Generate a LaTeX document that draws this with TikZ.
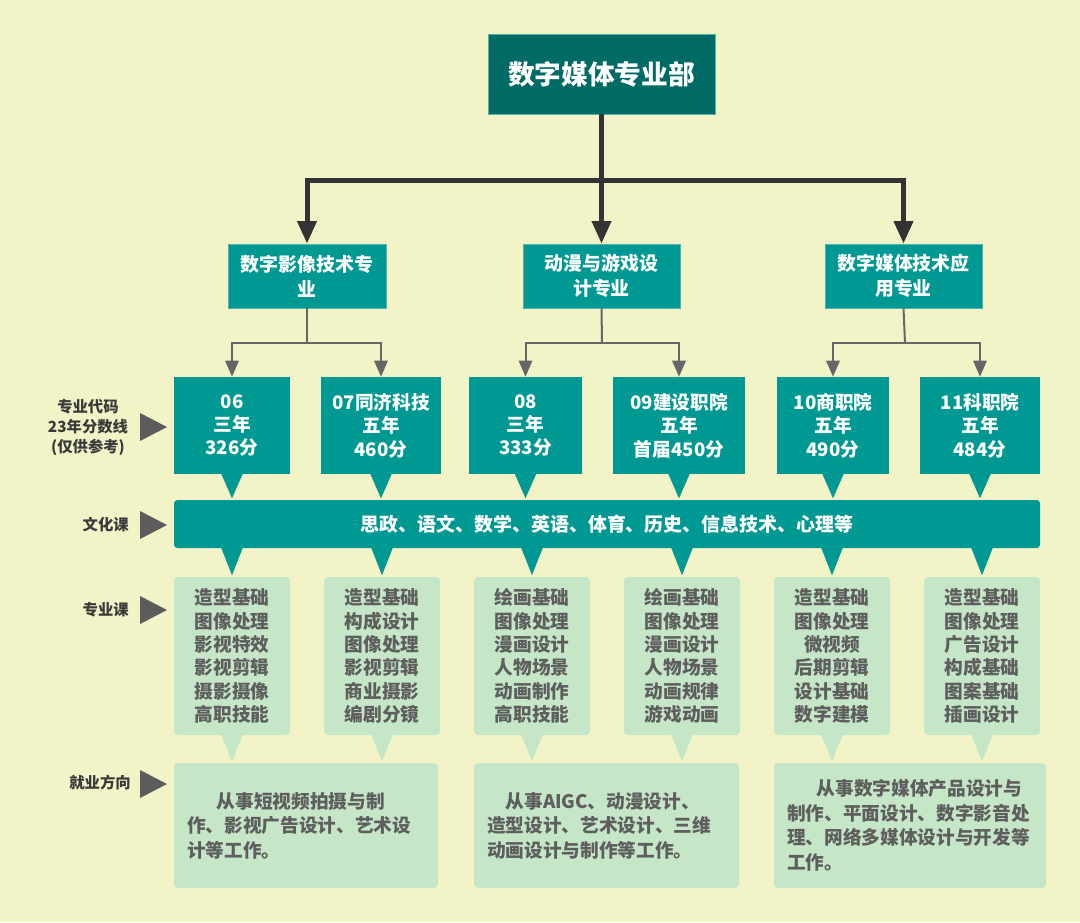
\documentclass[tikz,border=0pt]{standalone}
\usepackage{fontspec}
\setmainfont{Noto Sans CJK SC}
\usetikzlibrary{arrows.meta}
\definecolor{bgc}{HTML}{F2F4C8}
\definecolor{topc}{HTML}{006A65}
\definecolor{tealc}{HTML}{009893}
\definecolor{tealb}{HTML}{4DB5AE}
\definecolor{lgc}{HTML}{C6E6C8}
\definecolor{grayt}{HTML}{5E5E5E}
\definecolor{labc}{HTML}{3A3A3A}
\definecolor{markc}{HTML}{5C5C5C}
\definecolor{darkc}{HTML}{333333}
\definecolor{graylc}{HTML}{666666}
\begin{document}
\begin{tikzpicture}[x=0.75pt,y=-0.75pt,
  topbox/.style={fill=topc, draw=tealb, line width=0.5pt, text=white, inner sep=0pt,
    font=\fontsize{20}{24}\selectfont\bfseries, minimum width=170.25pt, minimum height=60pt},
  majbox/.style={fill=tealc, draw=tealb, line width=0.5pt, text=white, inner sep=0pt, align=center,
    font=\fontsize{14.2}{18.75}\selectfont\bfseries, minimum height=48pt},
  codebox/.style={fill=tealc, text=white, inner sep=0pt, align=center,
    font=\fontsize{14}{17.6}\selectfont\bfseries, minimum height=72.75pt},
  cultbar/.style={fill=tealc, text=white, inner sep=0pt, rounded corners=2.5pt,
    font=\fontsize{14.2}{17}\selectfont\bfseries, minimum width=649.5pt, minimum height=36pt},
  coursebox/.style={fill=lgc, text=grayt, inner sep=0pt, rounded corners=3pt, align=center,
    font=\fontsize{14}{17.5}\selectfont\bfseries, minimum width=87pt, minimum height=118.5pt},
  jobbox/.style={fill=lgc, text=grayt, inner xsep=9.75pt, inner ysep=0pt, rounded corners=3pt, align=left,
    font=\fontsize{14}{18.4}\selectfont\bfseries, minimum height=93.75pt},
  rowlabel/.style={text=labc, inner sep=0pt, align=center,
    font=\fontsize{11.5}{15}\selectfont\bfseries},
  darkarrow/.style={draw=darkc, line width=3.75pt, -{Triangle[width=14pt,length=17pt]}},
  darkline/.style={draw=darkc, line width=3.75pt},
  grayarrow/.style={draw=graylc, line width=1.5pt, -{Triangle[width=10pt,length=12pt]}},
  grayline/.style={draw=graylc, line width=1.5pt}
]
\useasboundingbox[fill=bgc] (0,0) rectangle (1080,922);

% top
\node[topbox] (top) at (601.5,74) {数字媒体专业部};

% majors
\node[majbox, minimum width=118.5pt] (m1) at (307,276) {数字影像技术专\\业};
\node[majbox, minimum width=117.75pt] (m2) at (601.5,276) {动漫与游戏设\\计专业};
\node[majbox, minimum width=117.75pt] (m3) at (903.5,276) {数字媒体技术应\\用专业};

\coordinate (hub) at (601.5,180);
\draw[darkarrow] (hub) -| (m1.north);
\draw[darkarrow] (hub) -| (m3.north);
\draw[darkarrow] (top.south) -- (m2.north);

% code boxes
\node[codebox, minimum width=87pt] (c1) at (232,425.5) {06\\三年\\326分};
\node[codebox, minimum width=90pt] (c2) at (381,425.5) {07同济科技\\五年\\460分};
\node[codebox, minimum width=84.75pt] (c3) at (525.5,425.5) {08\\三年\\333分};
\node[codebox, minimum width=99pt] (c4) at (679,425.5) {09建设职院\\五年\\首届450分};
\node[codebox, minimum width=84pt] (c5) at (833,425.5) {10商职院\\五年\\490分};
\node[codebox, minimum width=90pt] (c6) at (980,425.5) {11科职院\\五年\\484分};

\coordinate (h1) at (307,343);
\coordinate (h2) at (602,343);
\coordinate (h3) at (905,343);
\draw[grayline] (m1.south) -- (h1);
\draw[grayline] (m2.south) -- (h2);
\draw[grayline] (m3.south) -- (h3);
\draw[grayarrow] (h1) -| (c1.north);
\draw[grayarrow] (h1) -| (c2.north);
\draw[grayarrow] (h2) -| (c3.north);
\draw[grayarrow] (h2) -| (c4.north);
\draw[grayarrow] (h3) -| (c5.north);
\draw[grayarrow] (h3) -| (c6.north);

\foreach \c in {c1,c2,c3,c4,c5,c6}
  \fill[tealc] (\c.south) ++(-11,-1) -- ++(11,25) -- ++(11,-25) -- cycle;

% culture bar
\node[cultbar] (bar) at (607,524) {思政、语文、数学、英语、体育、历史、信息技术、心理等};

% course boxes
\node[coursebox] (k1) at (232,656) {造型基础\\图像处理\\影视特效\\影视剪辑\\摄影摄像\\高职技能};
\node[coursebox] (k2) at (382,656) {造型基础\\构成设计\\图像处理\\影视剪辑\\商业摄影\\编剧分镜};
\node[coursebox] (k3) at (532,656) {绘画基础\\图像处理\\漫画设计\\人物场景\\动画制作\\高职技能};
\node[coursebox] (k4) at (682,656) {绘画基础\\图像处理\\漫画设计\\人物场景\\动画规律\\游戏动画};
\node[coursebox] (k5) at (832,656) {造型基础\\图像处理\\微视频\\后期剪辑\\设计基础\\数字建模};
\node[coursebox] (k6) at (982,656) {造型基础\\图像处理\\广告设计\\构成基础\\图案基础\\插画设计};

\foreach \k in {k1,k2,k3,k4,k5,k6}{
  \fill[tealc] (\k.north |- bar.south) ++(-11,-1) -- ++(11,28) -- ++(11,-28) -- cycle;
  \fill[lgc] (\k.south) ++(-11,-1) -- ++(11,27) -- ++(11,-27) -- cycle;
}

% job boxes
\node[jobbox, text width=178.5pt] (j1) at (306,825.5)
  {\hspace*{1.6em}从事短视频拍摄与制\\作、影视广告设计、艺术设\\计等工作。};
\node[jobbox, text width=179.25pt] (j2) at (606.5,825.5)
  {\hspace*{1em}从事AIGC、动漫设计、\\造型设计、艺术设计、三维\\动画设计与制作等工作。};
\node[jobbox, text width=184.5pt] (j3) at (910,825.5)
  {\hspace*{1.6em}从事数字媒体产品设计与\\制作、平面设计、数字影音处\\理、网络多媒体设计与开发等\\工作。};

% row labels
\node[rowlabel] (lab1) at (88,427) {专业代码\\23年分数线\\(仅供参考)};
\node[rowlabel, anchor=east] (lab2) at (129,525) {文化课};
\node[rowlabel, anchor=east] (lab3) at (129,610) {专业课};
\node[rowlabel, anchor=east] (lab4) at (131,783) {就业方向};
\fill[markc] (140,413) -- (167,427) -- (140,441) -- cycle;
\fill[markc] (140,511) -- (167,525) -- (140,539) -- cycle;
\fill[markc] (140,596) -- (167,610) -- (140,624) -- cycle;
\fill[markc] (140,770) -- (167,784) -- (140,798) -- cycle;
\end{tikzpicture}
\end{document}
